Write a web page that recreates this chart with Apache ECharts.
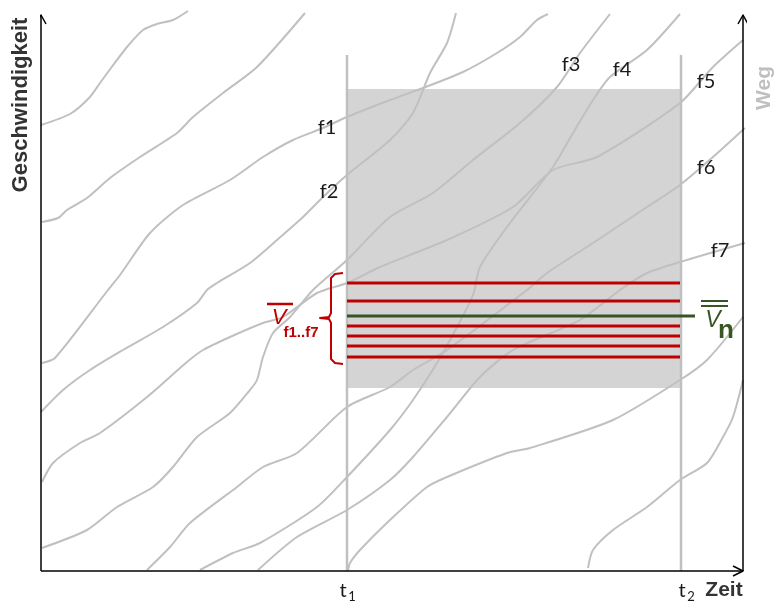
<!DOCTYPE html>
<html><head><meta charset="utf-8">
<script src="https://cdn.jsdelivr.net/npm/echarts@6.0.0/dist/echarts.min.js"></script>
<style>html,body{margin:0;padding:0;background:#fff}#c{width:776px;height:608px}</style>
</head><body><div id="c"></div>
<script>
// ---- data (time units on x, speed units on y) ----
const curveA = [[0,446],[29,457],[48,473],[59,488],[70,503],[86,524],[102,541],[116,547],[132,551],[147,560]];
const curveB = [[1,349],[17,353],[26,361],[46,373],[69,393],[99,414],[136,438],[152,454],[182,478],[216,504],[264,558]];
const curveF1 = [[1,208],[14,213],[67,281],[79,296],[109,338],[142,366],[189,391],[222,414],[252,431],[282,443],[306,454],[349,471],[382,483],[422,499],[456,518],[479,534],[496,551],[507,557]];
const curveF2 = [[0,159],[22,181],[49,201],[82,221],[122,244],[156,268],[166,281],[176,288],[209,308],[236,331],[262,354],[282,374],[306,396],[349,431],[372,458],[389,498],[406,528],[415,558]];
const curveF3 = [[1,23],[46,41],[76,64],[112,84],[132,104],[156,134],[189,158],[209,181],[216,191],[222,214],[232,238],[249,254],[272,281],[306,311],[349,354],[392,378],[432,411],[479,448],[516,484],[539,518],[569,557]];
const curveF4 = [[159,1],[192,18],[219,28],[276,64],[306,94],[349,141],[372,171],[396,208],[416,244],[432,276],[439,304],[466,344],[512,404],[532,438],[552,471],[569,494],[606,521],[639,557]];
const curveF5 = [[1,89],[12,108],[39,128],[59,138],[106,174],[146,209],[162,221],[189,234],[222,248],[242,254],[276,278],[306,288],[339,304],[406,331],[472,364],[512,401],[556,414],[639,468],[672,504],[702,531]];
const curveF6 = [[106,1],[129,24],[149,48],[196,84],[222,104],[256,118],[306,164],[349,184],[372,201],[406,221],[486,281],[506,298],[552,328],[606,364],[639,386],[672,414],[704,443]];
const curveF7 = [[217,1],[256,34],[306,61],[349,91],[372,114],[406,154],[439,194],[472,221],[539,251],[579,281],[606,298],[639,309],[704,328]];
const curveG = [[307,0],[309,8],[319,21],[349,51],[386,84],[406,94],[466,118],[489,123],[572,151],[639,191],[666,211],[702,254]];
const curveH = [[547,3],[552,21],[572,41],[606,64],[639,91],[666,108],[682,134],[692,154],[702,191]];

const windowT = [306, 640];          // t1, t2
const windowV = [183, 482];          // shaded speed band
const redMeans = [288, 270, 245, 235, 225, 214];
const greenMean = 255;
const curveLabels = ['f1','f2','f3','f4','f5','f6','f7'];
const timeLabels = ['t','t'];
const timeSubs = ['1','2'];

// ---- chart ----
const chart = echarts.init(document.getElementById('c'), null, {renderer:'canvas'});
const GRAY = '#c0c0c0', RED = '#c00000', GREEN = '#375623', AX = '#000';

function ln(data, color, width, z, smooth) {
  return {type:'line', data, showSymbol:false, symbol:'none', silent:true, clip:false, z,
    smooth: smooth || 0, animation:false,
    lineStyle:{color, width, cap:'butt', join:'round'}};
}

const series = [];
series.push({type:'custom', z:1, silent:true, clip:false, animation:false,
  data:[[windowT[0], windowT[1], windowV[0], windowV[1]]],
  encode:{x:[0,1], y:[2,3]},
  renderItem:(p, api) => {
    const a = api.coord([api.value(0), api.value(3)]);
    const b = api.coord([api.value(1), api.value(2)]);
    return {type:'rect', shape:{x:a[0], y:a[1], width:b[0]-a[0], height:b[1]-a[1]}, style:{fill:'#d4d4d4'}};
  }});
// window verticals
windowT.forEach(t => series.push(ln([[t,0],[t,516]], GRAY, 2.5, 2)));
// curves
[curveA, curveB, curveF1, curveF2, curveF3, curveF4, curveF5, curveF6, curveF7, curveG, curveH]
  .forEach(c => series.push(ln(c, GRAY, 2, 3, 0.25)));
// means
redMeans.forEach(v => series.push(ln([[windowT[0], v],[windowT[1]-1, v]], RED, 3, 4)));
series.push(ln([[windowT[0], greenMean],[654, greenMean]], GREEN, 3, 4));
// bracket
series.push(ln([[302,298],[294,297],[290,293],[290,258],[288,254],[279,253],[288,252],[290,248],[290,212],[294,208],[302,207]], RED, 2, 4));
// overlines
series.push(ln([[226,267],[252,267]], RED, 2.5, 4));
series.push(ln([[660,270],[687,270]], GREEN, 2, 4));
series.push(ln([[660,265],[687,265]], GREEN, 2, 4));
// axes with arrows
series.push(ln([[0,0],[0,556]], AX, 1.5, 5));
series.push(ln([[-5,547],[0,556],[5,547]], AX, 1.5, 5));
series.push(ln([[0,0],[702,0]], AX, 1.5, 5));
series.push(ln([[692,5],[702,0],[692,-5]], AX, 1.5, 5));
series.push(ln([[702,0],[702,556]], AX, 1.5, 5));
series.push(ln([[697,547],[702,556],[707,547]], AX, 1.5, 5));

chart.setOption({
  animation:false,
  grid:{left:41, right:31, top:15, bottom:37},
  xAxis:{type:'value', min:0, max:704, show:false},
  yAxis:{type:'value', min:0, max:556, show:false},
  series
});

// ---- text annotations positioned in data units ----
const P = (x,y) => chart.convertToPixel({gridIndex:0}, [x,y]);
const labelPos = [[286,443],[288,379],[530,506],[581,501],[665,489],[665,403],[679,320]];
const texts = [];
curveLabels.forEach((s,i) => texts.push({s, at:labelPos[i], size:20, fam:'Lato', color:'#1a1a1a'}));
texts.push({s:'Geschwindigkeit', at:[-20,466], size:22, weight:'bold', fam:'Liberation Sans', color:'#333', rot:Math.PI/2});
texts.push({s:'Weg', at:[723,483], size:21, weight:'bold', fam:'Liberation Sans', color:'#bfbfbf', rot:Math.PI/2});
texts.push({s:'Zeit', at:[683,-19], size:21, weight:'bold', fam:'Liberation Sans', color:'#333'});
[[302,-20],[641,-20]].forEach((p,i) => {
  texts.push({s:timeLabels[i], at:p, size:20, fam:'Lato', color:'#1a1a1a'});
  texts.push({s:timeSubs[i], at:[p[0]+9,p[1]-6], size:13, fam:'Lato', color:'#1a1a1a'});
});
texts.push({s:'V', at:[238,253], size:22, fam:'Liberation Sans', style:'italic', color:RED});
texts.push({s:'f1..f7', at:[260,238], size:15, weight:'bold', fam:'Liberation Sans', color:RED});
texts.push({s:'V', at:[672,250], size:23, fam:'Liberation Sans', style:'italic', color:GREEN});
texts.push({s:'n', at:[685,240], size:26, weight:'bold', fam:'Liberation Sans', color:GREEN});

chart.setOption({graphic: texts.map(t => {
  const p = P(t.at[0], t.at[1]);
  return {type:'text', x:p[0], y:p[1], rotation:t.rot||0, z:100, silent:true,
    style:{text:t.s, fill:t.color, fontSize:t.size, fontFamily:t.fam, fontWeight:t.weight||'normal',
      fontStyle:t.style||'normal', align:'center', verticalAlign:'middle'}};
})});
</script></body></html>
